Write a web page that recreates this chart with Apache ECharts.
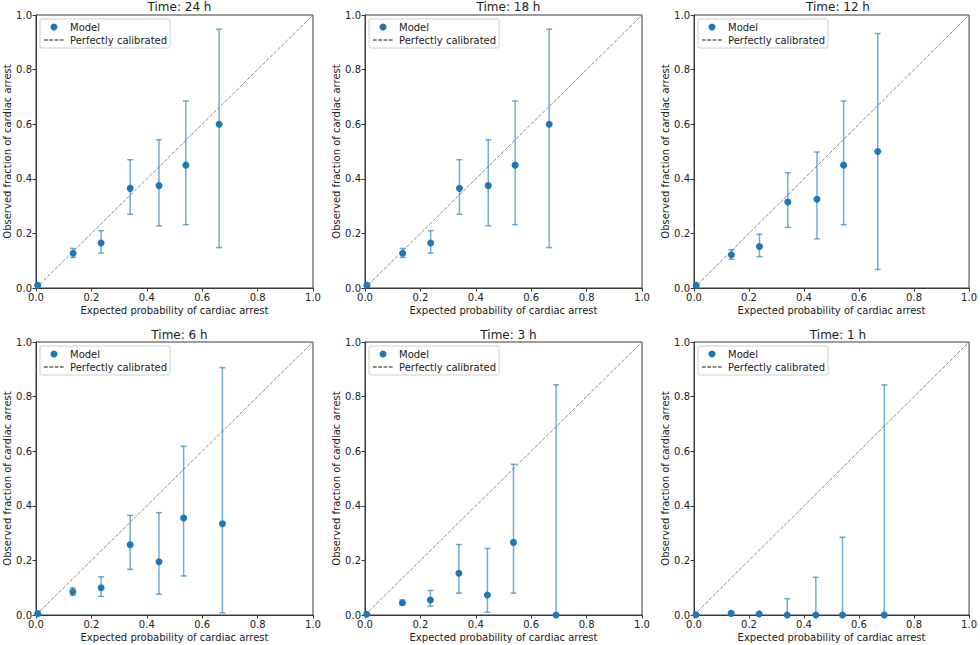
<!DOCTYPE html>
<html>
<head>
<meta charset="utf-8">
<script src="https://cdn.jsdelivr.net/npm/echarts@6/dist/echarts.min.js"></script>
<style>
html,body{margin:0;padding:0;background:#fff;}
#chart{width:980px;height:645px;}
</style>
</head>
<body>
<div id="chart"></div>
<script>
const panelTitles = ['Time: 24 h','Time: 18 h','Time: 12 h','Time: 6 h','Time: 3 h','Time: 1 h'];
const axisTicks = [0, 0.2, 0.4, 0.6, 0.8, 1.0];
const diagonal = [0, 1];

const x24 = [0.006,0.134,0.235,0.340,0.444,0.541,0.661];
const y24 = [0.010,0.127,0.165,0.365,0.375,0.450,0.600];
const lo24 = [0.005,0.112,0.128,0.270,0.228,0.232,0.148];
const hi24 = [0.015,0.145,0.210,0.470,0.543,0.685,0.948];

const x18 = [0.007,0.136,0.237,0.341,0.445,0.542,0.665];
const y18 = [0.010,0.127,0.165,0.365,0.375,0.450,0.600];
const lo18 = [0.005,0.112,0.128,0.270,0.228,0.232,0.148];
const hi18 = [0.015,0.145,0.210,0.470,0.543,0.685,0.948];

const x12 = [0.008,0.136,0.238,0.341,0.447,0.544,0.668];
const y12 = [0.010,0.122,0.152,0.315,0.325,0.450,0.500];
const lo12 = [0.005,0.105,0.115,0.222,0.180,0.232,0.068];
const hi12 = [0.015,0.140,0.197,0.422,0.498,0.685,0.932];

const x6 = [0.006,0.133,0.235,0.340,0.444,0.533,0.673];
const y6 = [0.005,0.085,0.100,0.257,0.195,0.355,0.334];
const lo6 = [0.002,0.072,0.068,0.167,0.076,0.143,0.008];
const hi6 = [0.008,0.100,0.140,0.365,0.375,0.618,0.906];

const x3 = [0.006,0.135,0.236,0.339,0.442,0.536,0.690];
const y3 = [0.003,0.045,0.055,0.153,0.073,0.266,0.000];
const lo3 = [0.001,0.038,0.032,0.080,0.010,0.080,0.000];
const hi3 = [0.005,0.055,0.090,0.258,0.244,0.552,0.843];

const x1 = [0.007,0.135,0.237,0.339,0.443,0.540,0.692];
const y1 = [0.001,0.006,0.004,0.000,0.000,0.000,0.000];
const lo1 = [0.000,0.002,0.000,0.000,0.000,0.000,0.000];
const hi1 = [0.002,0.010,0.008,0.060,0.138,0.285,0.843];

const panels = [
  [x24,y24,lo24,hi24],[x18,y18,lo18,hi18],[x12,y12,lo12,hi12],
  [x6,y6,lo6,hi6],[x3,y3,lo3,hi3],[x1,y1,lo1,hi1]
];

const FONT = 'DejaVu Sans';
const lefts = [36, 365, 694];
const widths = [277, 277, 278];
const tops = [15, 342];
const H = 273;

const grids = [], xAxes = [], yAxes = [], series = [], titles = [], legends = [];
panels.forEach((p, i) => {
  const r = Math.floor(i / 3), c = i % 3;
  grids.push({left: lefts[c], top: tops[r], width: widths[c], height: H,
    show: true, borderColor: '#3a3a3a', borderWidth: 1, backgroundColor: 'transparent', containLabel: false});
  titles.push({text: panelTitles[i], left: lefts[c] + widths[c] / 2, top: r === 0 ? -4 : 324, textAlign: 'center',
    textStyle: {fontFamily: FONT, fontSize: 12, fontWeight: 400, color: '#222'}});
  const axCommon = {
    min: 0, max: 1, interval: 0.2,
    axisLine: {show: true, lineStyle: {color: '#3a3a3a', width: 1}},
    axisTick: {show: true, length: 3.5, lineStyle: {color: '#3a3a3a'}},
    splitLine: {show: false},
    axisLabel: {fontFamily: FONT, fontSize: 10, color: '#222', formatter: v => v.toFixed(1)},
    nameLocation: 'middle',
    nameTextStyle: {fontFamily: FONT, fontSize: 10, color: '#222'}
  };
  xAxes.push(Object.assign({}, axCommon, {type: 'value', gridIndex: i, name: 'Expected probability of cardiac arrest', nameGap: 17,
    axisLabel: Object.assign({}, axCommon.axisLabel, {margin: 4})}));
  yAxes.push(Object.assign({}, axCommon, {type: 'value', gridIndex: i, name: 'Observed fraction of cardiac arrest', nameGap: 23,
    axisLabel: Object.assign({}, axCommon.axisLabel, {margin: 4})}));
  const [xs, ys, lo, hi] = p;
  series.push({
    type: 'custom', name: 'err' + i, xAxisIndex: i, yAxisIndex: i, z: 2, silent: true,
    data: xs.map((x, k) => [x, lo[k], hi[k]]),
    renderItem: function (params, api) {
      const a = api.coord([api.value(0), api.value(1)]);
      const b = api.coord([api.value(0), api.value(2)]);
      const st = {stroke: 'rgba(31,119,180,0.62)', lineWidth: 1.5};
      const cw = 3;
      return {type: 'group', children: [
        {type: 'line', shape: {x1: a[0], y1: a[1], x2: b[0], y2: b[1]}, style: st},
        {type: 'line', shape: {x1: a[0] - cw, y1: a[1], x2: a[0] + cw, y2: a[1]}, style: st},
        {type: 'line', shape: {x1: b[0] - cw, y1: b[1], x2: b[0] + cw, y2: b[1]}, style: st}
      ]};
    }
  });
  series.push({
    type: 'line', name: 'Perfectly calibrated', xAxisIndex: i, yAxisIndex: i, z: 1,
    data: diagonal.map(v => [v, v]), symbol: 'none', silent: true,
    lineStyle: {color: '#8a8a8a', width: 1, type: [3.7, 1.6]}, itemStyle: {color: '#8a8a8a'}
  });
  series.push({
    type: 'scatter', name: 'Model', xAxisIndex: i, yAxisIndex: i, z: 3,
    data: xs.map((x, k) => [x, ys[k]]), symbol: 'circle', symbolSize: 7,
    itemStyle: {color: '#1f77b4', opacity: 1}
  });
  legends.push({
    left: lefts[c] + 4, top: tops[r] + 4, orient: 'vertical',
    data: [
      {name: 'Model', icon: 'circle'},
      {name: 'Perfectly calibrated', itemStyle: {color: 'rgba(0,0,0,0)', opacity: 0, borderWidth: 0}}
    ],
    itemWidth: 20, itemHeight: 7, itemGap: 3,
    padding: [3, 3, 3, 3],
    backgroundColor: '#fff', borderColor: '#d0d0d0', borderWidth: 1, borderRadius: 2,
    selectedMode: false,
    textStyle: {fontFamily: FONT, fontSize: 10, color: '#222', padding: [0, 0, 0, 1]}
  });
});

const chart = echarts.init(document.getElementById('chart'), null, {renderer: 'svg'});
chart.setOption({
  animation: false,
  backgroundColor: '#fff',
  title: titles,
  legend: legends,
  grid: grids,
  xAxis: xAxes,
  yAxis: yAxes,
  series: series
});
</script>
</body>
</html>
